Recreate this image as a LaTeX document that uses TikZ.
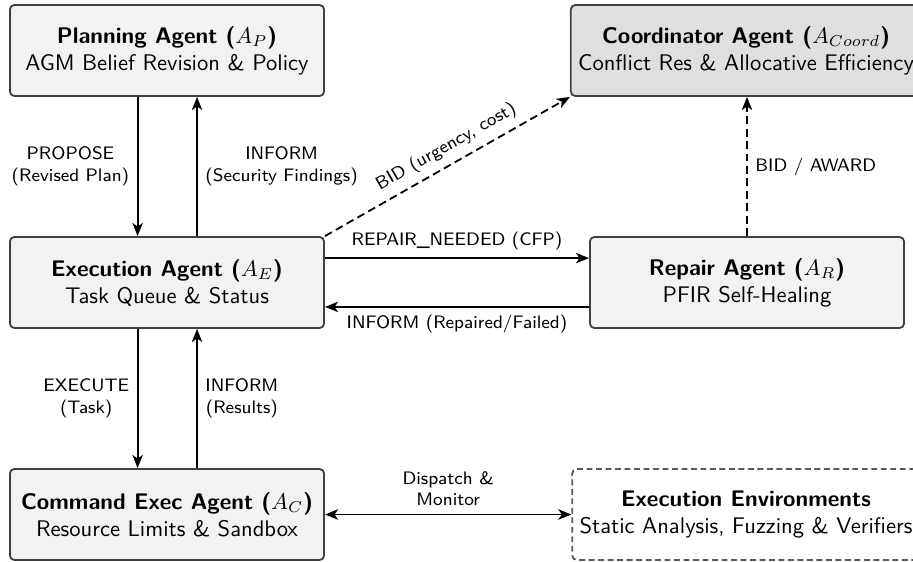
\documentclass[tikz,border=0pt]{standalone}
\usetikzlibrary{arrows.meta}
\begin{document}
\begin{tikzpicture}[x=0.4425pt,y=-0.4425pt, font=\sffamily,
  agent/.style={draw=black!75, fill=gray!10, rounded corners=2pt, line width=0.8pt,
    minimum width=139pt, minimum height=40.3pt, align=center, inner sep=3.2pt},
  coordbox/.style={agent, fill=gray!25},
  envbox/.style={agent, fill=white, draw=black!65, dash pattern=on 2.6pt off 1.6pt},
  tip/.tip={Stealth[length=5.8pt,width=4.6pt,inset=1.6pt]},
  msg/.style={-tip, line width=0.8pt},
  bimsg/.style={tip-tip, line width=0.8pt},
  dashmsg/.style={msg, dash pattern=on 3.5pt off 2pt},
  lbl/.style={font=\sffamily\footnotesize, align=center}]
\clip (0,0) rectangle (913,561);

\node[agent] (P) at (167,50.5) {\textbf{Planning Agent ($A_P$)}\\AGM Belief Revision \& Policy};
\node[agent] (E) at (167,282.5) {\textbf{Execution Agent ($A_E$)}\\Task Queue \& Status};
\node[agent] (C) at (167,514.5) {\textbf{Command Exec Agent ($A_C$)}\\Resource Limits \& Sandbox};
\node[coordbox] (K) at (746,50.5) {\textbf{Coordinator Agent ($A_{Coord}$)}\\Conflict Res \& Allocative Efficiency};
\node[agent] (R) at (747,282.5) {\textbf{Repair Agent ($A_R$)}\\PFIR Self-Healing};
\node[envbox] (X) at (746,514.5) {\textbf{Execution Environments}\\Static Analysis, Fuzzing \& Verifiers};

\draw[msg] ([xshift=-13pt]P.south) -- node[lbl, left] {PROPOSE\\(Revised Plan)} ([xshift=-13pt]E.north);
\draw[msg] ([xshift=13.3pt]E.north) -- node[lbl, right] {INFORM\\(Security Findings)} ([xshift=13.3pt]P.south);
\draw[msg] ([xshift=-13pt]E.south) -- node[lbl, left] {EXECUTE\\(Task)} ([xshift=-13pt]C.north);
\draw[msg] ([xshift=13.3pt]C.north) -- node[lbl, right] {INFORM\\(Results)} ([xshift=13.3pt]E.south);

\draw[msg] ([yshift=10.8pt]E.east) -- node[lbl, above] {REPAIR\_NEEDED (CFP)} ([yshift=10.8pt]R.west);
\draw[msg] ([yshift=-10.8pt]R.west) -- node[lbl, below] {INFORM (Repaired/Failed)} ([yshift=-10.8pt]E.east);

\draw[dashmsg] (E.north east) -- node[lbl, above, sloped, pos=0.53] {BID (urgency, cost)} (K.south west);
\draw[dashmsg] (R.north) -- node[lbl, right] {BID / AWARD} (R.north |- K.south);

\draw[bimsg] (C.east) -- node[lbl, above] {Dispatch \&\\Monitor} (X.west);
\end{tikzpicture}
\end{document}
